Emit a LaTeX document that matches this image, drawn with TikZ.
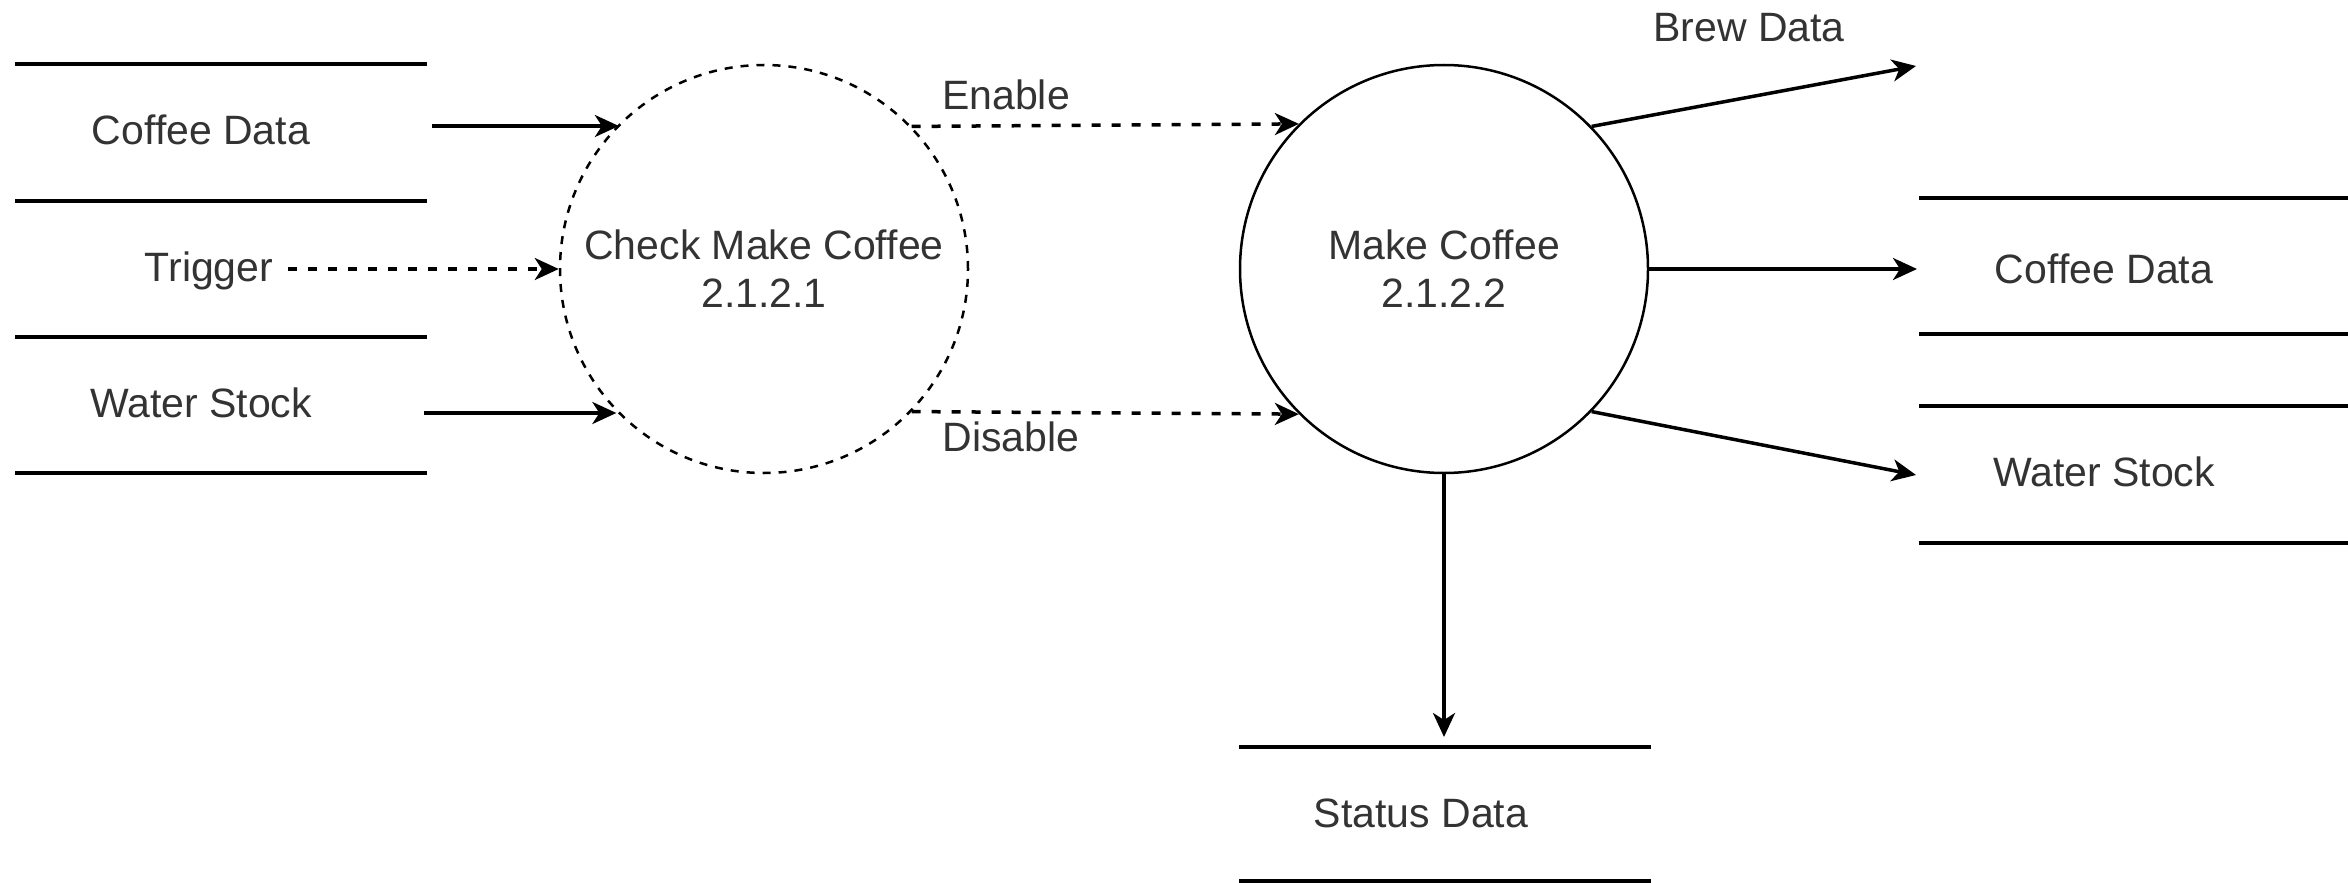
\documentclass[tikz,border=0pt]{standalone}
\usepackage{fontspec}
\setmainfont{Liberation Sans}
\usetikzlibrary{arrows.meta}
\begin{document}
\begin{tikzpicture}[x=1pt,y=-1pt,
  every node/.style={font=\fontsize{41}{48}\selectfont, text=black!80},
  storeline/.style={line width=3.5pt},
  flow/.style={line width=3.5pt, -{Stealth[length=24pt,width=22pt,inset=7pt]}},
  dflow/.style={flow, dash pattern=on 9pt off 11pt},
  proc/.style={circle, draw, line width=2.5pt, minimum size=408pt, inner sep=0pt, align=center},
  lbl/.style={anchor=base, inner sep=0pt}]
\useasboundingbox (0,0) rectangle (2348,883);

% left data stores
\draw[storeline] (15,64) -- (427,64);
\draw[storeline] (15,201) -- (427,201);
\draw[storeline] (15,337) -- (427,337);
\draw[storeline] (15,473) -- (427,473);
\node[lbl] (lcd) at (201,144) {Coffee Data};
\node[lbl] (ltr) at (209,281) {Trigger};
\node[lbl] (lws) at (201,417) {Water Stock};

% processes
\node[proc, dash pattern=on 8pt off 8pt] (cc) at (764,269) {Check Make Coffee\\2.1.2.1};
\node[proc] (mc) at (1444,269) {Make Coffee\\2.1.2.2};

% inputs
\coordinate (cdin) at (432,126);
\coordinate (trin) at (288,269);
\coordinate (wsin) at (424,413);
\draw[flow] (cdin) -- (cc.135.5 |- cdin);
\draw[dflow] (trin) -- (cc.west);
\draw[flow] (wsin) -- (cc.224.5 |- wsin);

% control flows
\draw[dflow] (cc.44.5) -- (mc.135.5);
\draw[dflow] (cc.-44.5) -- (mc.-135.5);
\node[lbl] (en) at (1006,110) {Enable};
\node[lbl] (dis) at (1011,451) {Disable};

% outputs
\coordinate (brew) at (1916,66);
\coordinate (cdout) at (1917,269);
\coordinate (wsout) at (1916,475);
\coordinate (stin) at (1444,737);
\draw[flow] (mc.44) -- (brew);
\draw[flow] (mc.east) -- (cdout);
\draw[flow] (mc.-44) -- (wsout);
\draw[flow] (mc.south) -- (stin);
\node[lbl] (bd) at (1749,42) {Brew Data};

% right data stores
\draw[storeline] (1919,198) -- (2348,198);
\draw[storeline] (1919,334) -- (2348,334);
\draw[storeline] (1919,406) -- (2348,406);
\draw[storeline] (1919,543) -- (2348,543);
\node[lbl] (rcd) at (2104,283) {Coffee Data};
\node[lbl] (rws) at (2104,486) {Water Stock};

% status store
\draw[storeline] (1239,747) -- (1651,747);
\draw[storeline] (1239,881) -- (1651,881);
\node[lbl] (sd) at (1421,827) {Status Data};
\end{tikzpicture}
\end{document}
